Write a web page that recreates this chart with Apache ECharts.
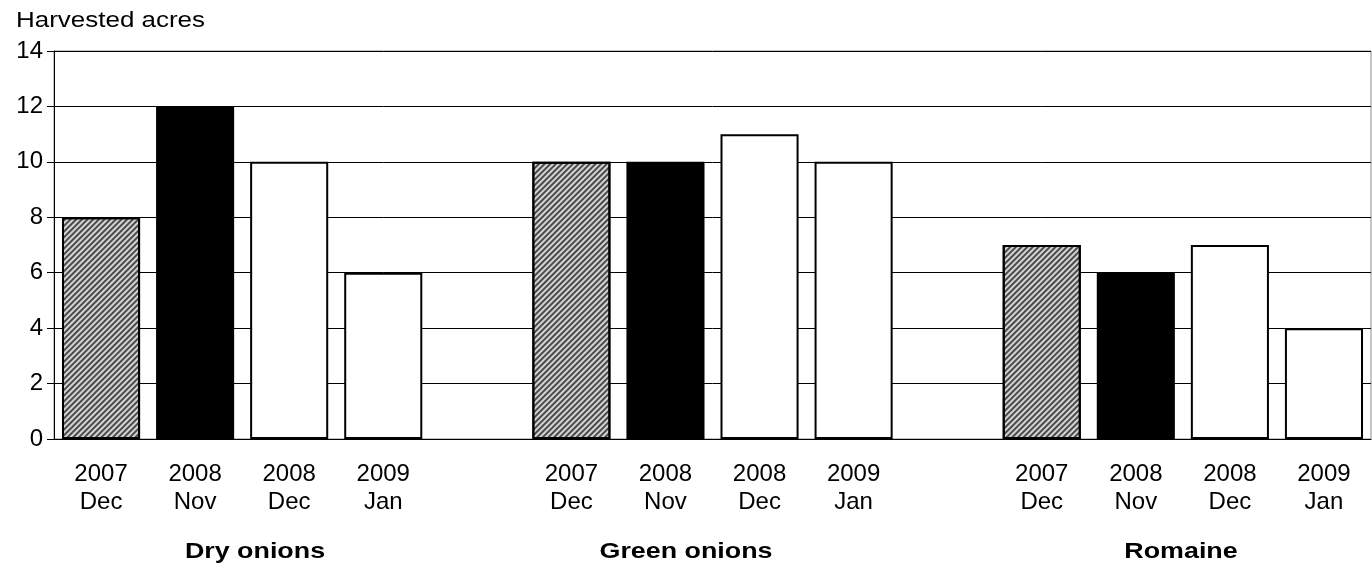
<!DOCTYPE html>
<html>
<head>
<meta charset="utf-8">
<script src="https://cdn.jsdelivr.net/npm/echarts@6/dist/echarts.min.js"></script>
<style>html,body{margin:0;padding:0;background:#fff}#c{width:1372px;height:570px}</style>
</head>
<body>
<div id="c"></div>
<script>
var periods = ['2007\nDec', '2008\nNov', '2008\nDec', '2009\nJan'];
var groups = ['Dry onions', 'Green onions', 'Romaine'];
var dryOnions = [8, 12, 10, 6];
var greenOnions = [10, 10, 11, 10];
var romaine = [7, 6, 7, 4];
var yTicks = [0, 2, 4, 6, 8, 10, 12, 14];
var yTitle = 'Harvested acres';

var groupValues = [dryOnions, greenOnions, romaine];
var periodFill = ['hatch', '#000', '#fff', '#fff'];
var FONT = '"Liberation Sans", Arial, sans-serif';

var categories = [];
var data = [];
groupValues.forEach(function (vals, g) {
  if (g > 0) { categories.push('gap' + g); data.push('-'); }
  vals.forEach(function (v, i) {
    categories.push(periods[i] + '\u200b'.repeat(g));
    var fill = periodFill[i];
    var style = { borderColor: '#000', borderWidth: 2 };
    if (fill === 'hatch') {
      style.color = '#d4d4d4';
      style.decal = {
        symbol: 'rect', symbolSize: 1, color: 'rgba(0,0,0,0.65)',
        dashArrayX: [1, 0], dashArrayY: [1.2, 1.6], rotation: -Math.PI / 4
      };
    } else {
      style.color = fill;
    }
    data.push({ value: v, itemStyle: style });
  });
});

function groupText(x, txt) {
  return { type: 'text', x: x, y: 552, scaleX: 1.22, originX: 0,
    style: { text: txt, font: 'bold 22px ' + FONT, fill: '#000', textAlign: 'center', textVerticalAlign: 'middle' } };
}

var chart = echarts.init(document.getElementById('c'));
chart.setOption({
  animation: false,
  grid: { left: 54, right: 1, top: 51, bottom: 131, show: true, borderColor: '#888', borderWidth: 1 },
  xAxis: {
    type: 'category', data: categories,
    axisLine: { lineStyle: { color: '#000', width: 1 } },
    axisTick: { show: false },
    axisLabel: {
      interval: 0, color: '#000', fontSize: 24, fontFamily: FONT, lineHeight: 28, margin: 21,
      formatter: function (v) { return v.indexOf('gap') === 0 ? '' : v.replace(/\u200b/g, ''); }
    }
  },
  yAxis: {
    type: 'value', min: yTicks[0], max: yTicks[yTicks.length - 1], interval: 2,
    axisLine: { show: true, lineStyle: { color: '#000', width: 1 } },
    axisTick: { show: true, length: 7, lineStyle: { color: '#000' } },
    axisLabel: { color: '#000', fontSize: 24, fontFamily: FONT, margin: 11 },
    splitLine: { lineStyle: { color: '#000', width: 1 } }
  },
  series: [{
    type: 'bar', data: data, barCategoryGap: '17%'
  }],
  graphic: [
    { type: 'text', x: 16, y: 21, scaleX: 1.18,
      style: { text: yTitle, font: '22px ' + FONT, fill: '#000', textAlign: 'left', textVerticalAlign: 'middle' } },
    groupText(255, groups[0]),
    groupText(686, groups[1]),
    groupText(1181, groups[2])
  ]
});
</script>
</body>
</html>
